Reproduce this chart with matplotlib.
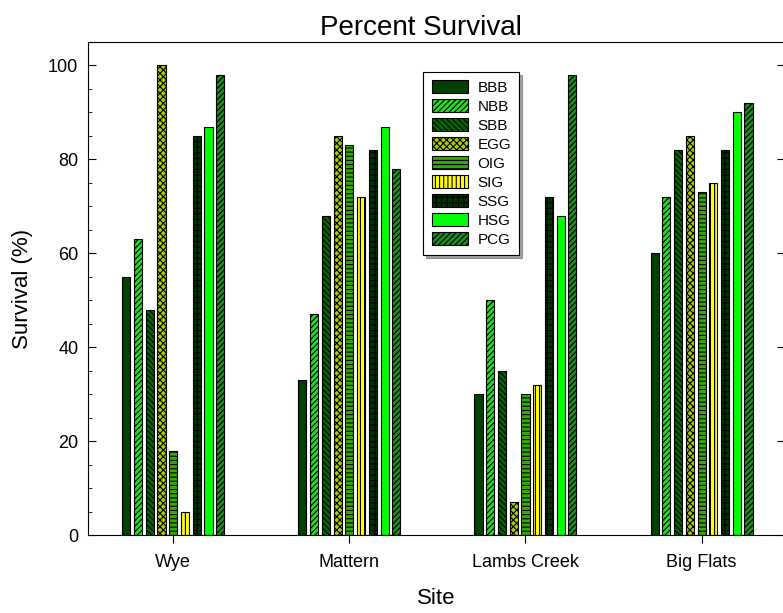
import numpy as np
import matplotlib
matplotlib.use('Agg')
import matplotlib.pyplot as plt
from matplotlib.ticker import MultipleLocator

sites = ['Wye', 'Mattern', 'Lambs Creek', 'Big Flats']
groups = ['BBB', 'NBB', 'SBB', 'EGG', 'OIG', 'SIG', 'SSG', 'HSG', 'PCG']

# survival (%) per group, one value per site
bbb = [55, 33, 30, 60]
nbb = [63, 47, 50, 72]
sbb = [48, 68, 35, 82]
egg = [100, 85, 7, 85]
oig = [18, 83, 30, 73]
sig = [5, 72, 32, 75]
ssg = [85, 82, 72, 82]
hsg = [87, 87, 68, 90]
pcg = [98, 78, 98, 92]

colors = ['#004000', '#22dd22', '#006600', '#aacc00', '#33aa00',
          '#ffff00', '#003300', '#00ff00', '#1f8a1f']
hatches = [None, '//////', '\\\\\\\\\\\\', 'xxxxx', '----', '||||', '+++', None, '//////']


def main():
    plt.rcParams['font.family'] = ['Liberation Sans', 'DejaVu Sans']
    plt.rcParams['hatch.linewidth'] = 0.8

    values = [bbb, nbb, sbb, egg, oig, sig, ssg, hsg, pcg]
    x = np.arange(len(sites))
    pitch = 1 / 15
    width = 0.046

    fig = plt.figure(figsize=(7.83, 6.13), dpi=100)
    ax = fig.add_axes([0.1124, 0.1272, 0.89, 0.8043])

    for i, (name, vals) in enumerate(zip(groups, values)):
        ax.bar(x + (i - 4) * pitch, vals, width, label=name, color=colors[i],
               hatch=hatches[i], edgecolor='black', linewidth=0.8)

    ax.set_xlim(-0.484, 3.473)
    ax.set_ylim(0, 105)
    ax.set_xticks(x)
    ax.set_xticklabels(sites, fontsize=13)
    ax.yaxis.set_major_locator(MultipleLocator(20))
    ax.yaxis.set_minor_locator(MultipleLocator(5))
    ax.tick_params(axis='y', which='both', direction='in', labelsize=13, pad=7)
    ax.tick_params(axis='y', which='major', length=6, right=True)
    ax.tick_params(axis='y', which='minor', length=3)
    ax.tick_params(axis='x', direction='out', length=6, pad=8)

    ax.set_xlabel('Site', fontsize=16, labelpad=12)
    ax.set_ylabel('Survival (%)', fontsize=16, labelpad=11)
    ax.set_title('Percent Survival', fontsize=20, pad=5, x=0.478)

    leg = ax.legend(loc='upper left', bbox_to_anchor=(0.481, 0.939), borderaxespad=0,
                    fontsize=11, fancybox=False, shadow=True, edgecolor='black',
                    handlelength=2.4, handleheight=0.92, handletextpad=0.6,
                    labelspacing=0.28, borderpad=0.55, framealpha=1)
    leg.get_frame().set_linewidth(0.8)

    fig.savefig('out.png', dpi=100)


if __name__ == '__main__':
    main()
